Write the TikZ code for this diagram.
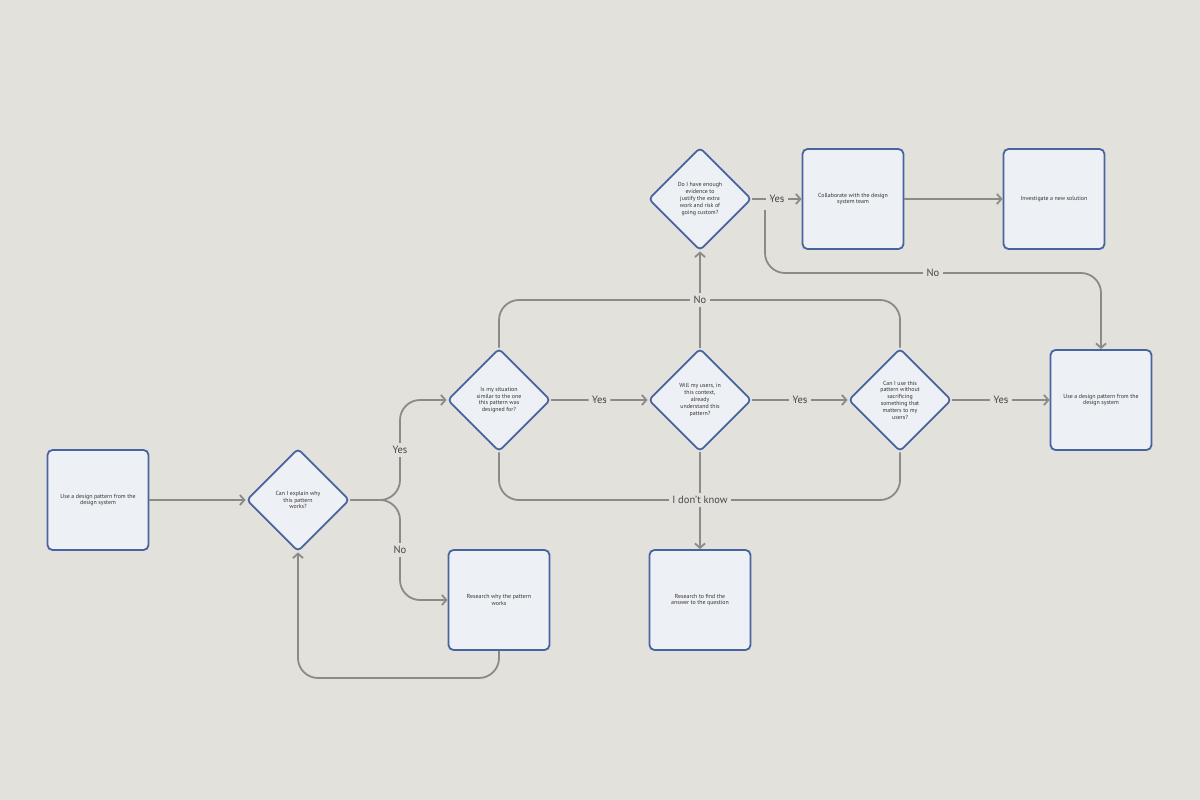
\documentclass[tikz,border=0pt]{standalone}
\usepackage{fontspec}
\setmainfont{PT Sans}
\usetikzlibrary{shapes.geometric,arrows.meta}
\definecolor{bg}{RGB}{227,225,220}
\definecolor{lncol}{RGB}{140,138,134}
\definecolor{bdcol}{RGB}{72,100,160}
\definecolor{fillcol}{RGB}{237,240,245}
\definecolor{txtcol}{RGB}{50,50,50}
\begin{document}
\begin{tikzpicture}[x=1pt,y=-1pt,
  box/.style={draw=bdcol, fill=fillcol, line width=1.8pt, rounded corners=5pt,
    minimum width=101pt, minimum height=100pt, inner sep=0pt, align=center,
    text=txtcol, font=\fontsize{5.9}{6.8}\selectfont},
  dec/.style={draw=bdcol, fill=fillcol, line width=1.8pt, rounded corners=4pt,
    shape=diamond, aspect=1, minimum width=103pt, minimum height=103pt,
    inner sep=0pt, align=center, text=txtcol, font=\fontsize{5.9}{6.8}\selectfont},
  conn/.style={draw=lncol, line width=1.8pt, rounded corners=20pt},
  arr/.style={conn, -{Straight Barb[length=4.5pt,width=10pt]}},
  lbl/.style={fill=bg, text=txtcol!90!white, inner sep=3.5pt, font=\fontsize{10.5}{12}\selectfont}
]
\useasboundingbox (0,0) rectangle (1200,800);
\fill[bg] (0,0) rectangle (1200,800);

% nodes
\node[box] (A) at (98,500) {Use a design pattern from the\\design system};
\node[dec] (D1) at (298,500) {Can I explain why\\this pattern\\works?};
\node[dec] (D2) at (499,400) {Is my situation\\similar to the one\\this pattern was\\designed for?};
\node[dec] (D3) at (700,400) {Will my users, in\\this context,\\already\\understand this\\pattern?};
\node[dec] (D4) at (900,400) {Can I use this\\pattern without\\sacrificing\\something that\\matters to my\\users?};
\node[box] (E) at (1101,400) {Use a design pattern from the\\design system};
\node[box] (R1) at (499,600) {Research why the pattern\\works};
\node[box] (R2) at (700,600) {Research to find the\\answer to the question};
\node[dec] (DT) at (700,199) {Do I have enough\\evidence to\\justify the extra\\work and risk of\\going custom?};
\node[box] (C) at (853,199) {Collaborate with the design\\system team};
\node[box] (I) at (1054,199) {Investigate a new solution};

% helper coordinates
\coordinate (br) at (400,500);
\coordinate (yes1) at (400,450);
\coordinate (no1) at (400,550);
\coordinate (noy) at (700,300);
\coordinate (idk) at (700,500);
\coordinate (lp) at (400,678);
\coordinate (ns) at (765,210);
\coordinate (nl) at (933,273);

% connectors
\draw[arr] (A) -- (D1);
\draw[arr] (D1.east) -- (br) |- (D2.west);
\draw[arr] (D1.east) -- (br) |- (R1.west);
\draw[arr] (D2) -- node[lbl]{Yes} (D3);
\draw[arr] (D3) -- node[lbl]{Yes} (D4);
\draw[arr] (D4) -- node[lbl]{Yes} (E);
\draw[conn] (D2.north) |- (noy) -| (D4.north);
\draw[arr] (D3.north) -- (DT.south);
\draw[conn] (D2.south) |- (idk) -| (D4.south);
\draw[arr] (D3.south) -- (R2.north);
\draw[arr] (R1.south) |- (lp) -| (D1.south);
\draw[arr] (DT) -- node[lbl]{Yes} (C);
\draw[arr] (C) -- (I);
\draw[arr] (ns) |- (nl) -| (E.north);

% labels on branches
\node[lbl] at (yes1) {Yes};
\node[lbl] at (no1) {No};
\node[lbl] at (noy) {No};
\node[lbl] at (idk) {I don't know};
\node[lbl] at (nl) {No};
\end{tikzpicture}
\end{document}
